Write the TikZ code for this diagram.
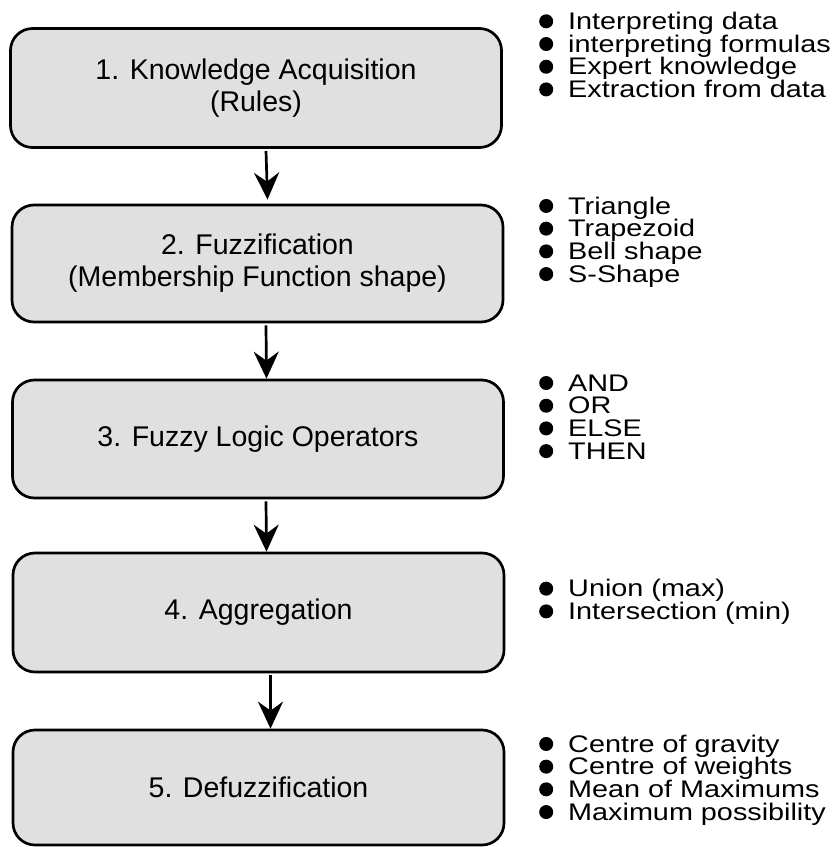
\documentclass[tikz,border=0pt]{standalone}
\usepackage{fontspec}
\setmainfont{Liberation Sans}
\newfontfamily\listfont[FakeStretch=1.2]{Liberation Sans}
\usetikzlibrary{arrows.meta}
\definecolor{boxfill}{RGB}{224,224,224}
\newcommand\blt{\raisebox{1.2bp}{\tikz\fill[black] (0,0) circle[radius=7bp];}}
\tikzset{
  stepbox/.style={draw=black, line width=2.7bp, fill=boxfill, rounded corners=22bp,
    minimum width=491bp, inner sep=0pt, align=center,
    font=\fontsize{28.5bp}{32bp}\selectfont},
  listnode/.style={anchor=west, align=left, inner sep=0pt,
    font=\listfont\fontsize{24bp}{22.7bp}\selectfont},
  flow/.style={line width=2.7bp, -{Stealth[length=27bp,width=25bp,inset=9bp]}}
}
\begin{document}
\begin{tikzpicture}[x=1bp,y=-1bp]
\useasboundingbox (0,0) rectangle (837,847);
\node[stepbox, minimum height=119bp] (b1) at (256,88) {1. Knowledge Acquisition\\(Rules)};
\node[stepbox, minimum height=117bp] (b2) at (257.5,263.5) {2. Fuzzification\\(Membership Function shape)};
\node[stepbox, minimum height=118bp] (b3) at (258,439) {3. Fuzzy Logic Operators};
\node[stepbox, minimum height=119bp] (b4) at (258.5,612.5) {4. Aggregation};
\node[stepbox, minimum height=115bp] (b5) at (258.5,787.5) {5. Defuzzification};

\draw[flow] ([xshift=10bp,yshift=-2bp]b1.south) -- ([xshift=10bp,yshift=4bp]b2.north);
\draw[flow] ([xshift=8.5bp,yshift=-2bp]b2.south) -- ([xshift=8.5bp]b3.north);
\draw[flow] ([xshift=8bp,yshift=-2bp]b3.south) -- ([xshift=8bp]b4.north);
\draw[flow] ([xshift=12bp,yshift=-2bp]b4.south) -- ([xshift=12bp]b5.north);

\node[listnode] (l1) at (539,55) {\blt\hspace{15bp}Interpreting data\\\blt\hspace{15bp}interpreting formulas\\\blt\hspace{15bp}Expert knowledge\\\blt\hspace{15bp}Extraction from data};
\node[listnode] (l2) at (539,242) {\blt\hspace{15bp}Triangle\\\blt\hspace{15bp}Trapezoid\\\blt\hspace{15bp}Bell shape\\\blt\hspace{15bp}S-Shape};
\node[listnode] (l3) at (539,417) {\blt\hspace{15bp}AND\\\blt\hspace{15bp}OR\\\blt\hspace{15bp}ELSE\\\blt\hspace{15bp}THEN};
\node[listnode] (l4) at (539,602) {\blt\hspace{15bp}Union (max)\\\blt\hspace{15bp}Intersection (min)};
\node[listnode] (l5) at (539,780) {\blt\hspace{15bp}Centre of gravity\\\blt\hspace{15bp}Centre of weights\\\blt\hspace{15bp}Mean of Maximums\\\blt\hspace{15bp}Maximum possibility};
\end{tikzpicture}
\end{document}
